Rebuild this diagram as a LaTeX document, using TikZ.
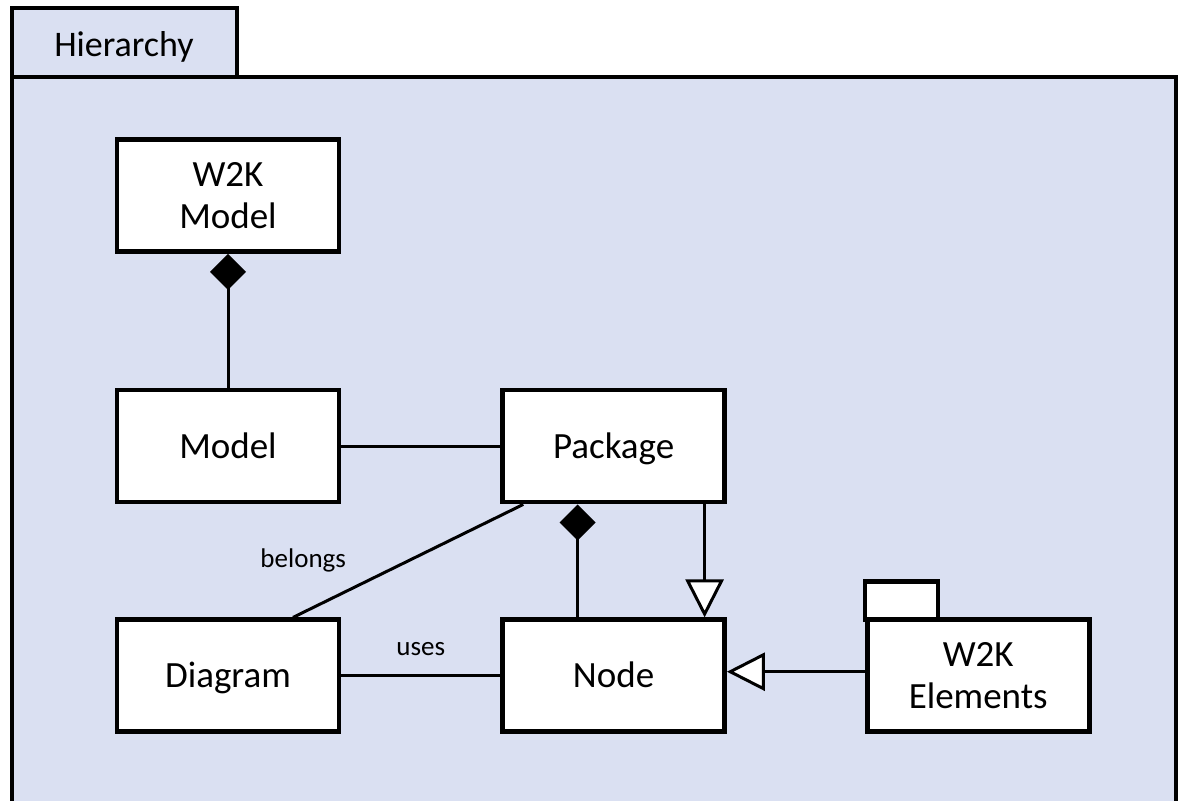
\documentclass[tikz,border=0pt]{standalone}
\usepackage{fontspec}
\setmainfont{Carlito}
\usepackage{tikz}
\usetikzlibrary{arrows.meta,positioning}
\definecolor{framefill}{HTML}{DAE0F2}

\begin{document}
\begin{tikzpicture}[
  cls/.style={draw, line width=2.3pt, fill=white, minimum width=111pt, minimum height=56pt, align=center, font=\fontsize{18.5}{21}\selectfont},
  oneline/.style={text height=14pt, text depth=2pt},
  conn/.style={line width=1.5pt},
  comp/.style={conn, {Diamond[length=18pt,width=18pt]}-},
  gen/.style={conn, -{Triangle[open, fill=white, length=19pt, width=19pt]}},
  lbl/.style={font=\fontsize{13.5}{15}\selectfont}
]
  \useasboundingbox (0,0) rectangle (589pt,-400pt);

  % package frame with tab
  \draw[line width=2.3pt, fill=framefill] (6pt,-38.5pt) rectangle (588pt,-410pt);
  \draw[line width=2.3pt, fill=framefill] (6pt,-4pt) rectangle (118.5pt,-38.5pt);
  \node[font=\fontsize{18}{20}\selectfont] (title) at (62pt,-23.5pt) {Hierarchy};

  \node[cls] (wmodel) at (114pt,-97.75pt) {W2K\\Model};
  \node[cls, oneline, below=67pt of wmodel] (model) {Model};
  \node[cls, oneline, right=79.5pt of model] (pkg) {Package};
  \node[cls, oneline, below=56.5pt of model] (diagram) {Diagram};
  \node[cls, oneline, right=79.5pt of diagram] (nodebox) {Node};
  \node[cls, right=69pt of nodebox] (welem) {W2K\\Elements};
  \draw[line width=2.3pt, fill=white] ([yshift=-1.15pt]welem.north west) rectangle ++(36.5pt,19pt);

  \draw[comp] (wmodel) -- (model);
  \draw[conn] (model) -- (pkg);
  \draw[conn] ([xshift=11.5pt]pkg.south west) -- node[lbl, midway, left=27pt] {belongs} ([xshift=32.5pt]diagram.north);
  \draw[comp] ([xshift=-18pt]pkg.south) -- ([xshift=-18pt]nodebox.north);
  \draw[gen] ([xshift=45.5pt]pkg.south) -- ([xshift=45.5pt]nodebox.north);
  \draw[conn] (diagram) -- node[lbl, midway, above=6pt] {uses} (nodebox);
  \draw[gen] ([yshift=2pt]welem.west) -- ([yshift=2pt]nodebox.east);
\end{tikzpicture}
\end{document}
